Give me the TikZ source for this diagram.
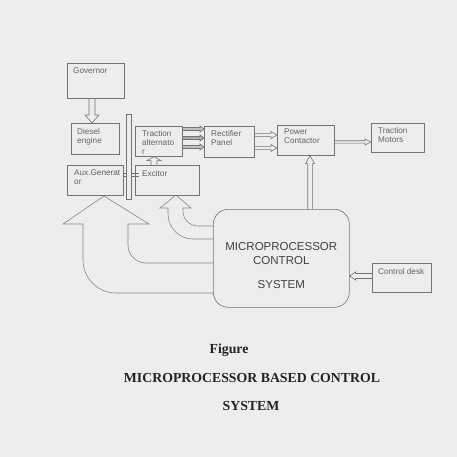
\documentclass[tikz,border=0pt]{standalone}
\usepackage{fontspec}
\setmainfont{Liberation Sans}
\newfontfamily\capfont{Liberation Serif}
\usetikzlibrary{calc}
\definecolor{bgc}{RGB}{238,236,236}
\definecolor{lineg}{RGB}{115,115,115}
\definecolor{lightg}{RGB}{135,135,135}
\definecolor{txtg}{RGB}{100,100,100}
\definecolor{mcstxt}{RGB}{65,65,65}
\definecolor{captxt}{RGB}{35,35,35}
\pgfdeclarelayer{bglayer}
\pgfdeclarelayer{conn}
\pgfsetlayers{bglayer,conn,main}
\begin{document}
\begin{tikzpicture}[x=1pt,y=-1pt,
  blk/.style={draw=lineg, line width=0.6pt, rectangle, inner sep=0pt, anchor=north west},
  lbl/.style={anchor=north west, inner sep=0pt, align=left, font=\fontsize{8.2}{9}\selectfont, text=txtg},
  hollow/.style n args={3}{draw=lineg, line width=0.6pt, fill=bgc,
    to path={let \p1=(\tikztostart), \p2=(\tikztotarget),
      \n1={veclen(\x2-\x1,\y2-\y1)}, \n2={atan2(\y2-\y1,\x2-\x1)} in
      ($(\p1)+(\n2+90:#1)$) -- ($(\p1)+(\n2:{\n1-#3})+(\n2+90:#1)$)
      -- ($(\p1)+(\n2:{\n1-#3})+(\n2+90:#2)$) -- (\p2)
      -- ($(\p1)+(\n2:{\n1-#3})+(\n2-90:#2)$) -- ($(\p1)+(\n2:{\n1-#3})+(\n2-90:#1)$)
      -- ($(\p1)+(\n2-90:#1)$)}},
  dbl/.style={draw=lineg, line width=0.5pt, double=bgc, double distance=2.2pt},
  bigarrow/.style={draw=lightg, line width=0.6pt, fill=bgc},
]
\useasboundingbox (0,0) rectangle (457,457);
\begin{pgfonlayer}{bglayer}
  \fill[bgc] (0,0) rectangle (457,457);
\end{pgfonlayer}

% blocks
\node[blk, minimum width=57pt, minimum height=35pt] (gov) at (67,63) {};
\node[blk, minimum width=48pt, minimum height=31pt] (diesel) at (71,123) {};
\node[blk, minimum width=47pt, minimum height=30pt] (alt) at (135,126) {};
\node[blk, minimum width=50pt, minimum height=31pt] (rect) at (204,126) {};
\node[blk, minimum width=57pt, minimum height=30pt] (pc) at (277,125) {};
\node[blk, minimum width=53pt, minimum height=29pt] (tm) at (371,123) {};
\node[blk, minimum width=56pt, minimum height=30pt] (aux) at (67,165) {};
\node[blk, minimum width=64pt, minimum height=30pt] (exc) at (135,165) {};
\node[blk, minimum width=59pt, minimum height=29pt] (cd) at (372,263) {};
\node[blk, rounded corners=15pt, minimum width=136pt, minimum height=98pt] (mcs) at (213,209) {};
\node[draw=lineg, line width=0.6pt, fill=bgc, inner sep=0pt, minimum width=5pt, minimum height=85pt] (shaft) at (128.5,156.5) {};

% labels
\node[lbl] (tgov) at ($(gov.north west)+(6,5)$) {Governor};
\node[lbl] (tdiesel) at ($(diesel.north west)+(6,5)$) {Diesel\\engine};
\node[lbl] (talt) at ($(alt.north west)+(7,4)$) {Traction\\alternato\\r};
\node[lbl] (trect) at ($(rect.north west)+(7,4)$) {Rectifier\\Panel};
\node[lbl] (tpc) at ($(pc.north west)+(7,4)$) {Power\\Contactor};
\node[lbl] (ttm) at ($(tm.north west)+(7,4)$) {Traction\\Motors};
\node[lbl] (taux) at ($(aux.north west)+(7,5)$) {Aux.Generat\\or};
\node[lbl] (texc) at ($(exc.north west)+(7,5)$) {Excitor};
\node[lbl] (tcd) at ($(cd.north west)+(6,5)$) {Control desk};
\node[anchor=north, inner sep=0pt, align=center, text=mcstxt,
      font=\fontsize{11.5}{14}\selectfont] (tmcs) at ($(mcs.north)+(0,33)$)
      {MICROPROCESSOR\\CONTROL\\[10pt]SYSTEM};

% caption
\node[anchor=base, inner sep=0pt, text=captxt, font=\capfont\bfseries\fontsize{13.8}{16}\selectfont] (cap1) at (229,353.5) {Figure};
\node[anchor=base, inner sep=0pt, text=captxt, font=\capfont\bfseries\fontsize{13.8}{16}\selectfont] (cap2) at (252,382.5) {MICROPROCESSOR BASED CONTROL};
\node[anchor=base, inner sep=0pt, text=captxt, font=\capfont\bfseries\fontsize{13.8}{16}\selectfont] (cap3) at (251,410.5) {SYSTEM};

\begin{pgfonlayer}{conn}
  % shaft couplings
  \draw[dbl] ($(diesel.north east)+(0,14.5)$) -- ($(alt.north west)+(0,11.5)$);
  \draw[dbl] ($(aux.north east)+(0,10)$) -- ($(exc.north west)+(4,10)$);
  % straight hollow arrows
  \draw[hollow={3pt}{7pt}{8pt}] ($(gov.south west)+(25,0)$) to ($(diesel.north west)+(21,0)$);
  \draw[hollow={3pt}{7pt}{4pt}] ($(exc.north west)+(19,0)$) to ($(alt.south west)+(19,0)$);
  \draw[hollow={1.5pt}{3pt}{4pt}, fill=lineg!45] ($(alt.north east)+(0,3)$) to ($(rect.north west)+(0,3)$);
  \draw[hollow={1.5pt}{3pt}{4pt}, fill=lineg!60] ($(alt.north east)+(0,12)$) to ($(rect.north west)+(0,12)$);
  \draw[hollow={1.5pt}{3pt}{4pt}, fill=lineg!45] ($(alt.north east)+(0,21)$) to ($(rect.north west)+(0,21)$);
  \draw[hollow={1.6pt}{3.5pt}{6pt}] ($(rect.north east)+(0,9)$) to ($(pc.north west)+(0,10)$);
  \draw[hollow={1.6pt}{3.5pt}{6pt}] ($(rect.north east)+(0,22)$) to ($(pc.north west)+(0,23)$);
  \draw[hollow={1.2pt}{3pt}{6pt}] ($(pc.north east)+(0,17)$) to ($(tm.north west)+(0,19)$);
  \draw[hollow={2.3pt}{4.5pt}{8pt}] ($(mcs.north west)+(97,0)$) to ($(pc.south west)+(33,0)$);
  \draw[hollow={2.5pt}{4pt}{6pt}] ($(cd.north west)+(0,13)$) to ($(mcs.north east)+(0,67)$);
  % large curved arrows from the microprocessor
  \draw[bigarrow] (213,263) -- (146,263) .. controls (136.1,263) and (128,254.9) .. (128,245)
    -- (128,224) -- (149,224) -- (104,196) -- (63,224) -- (83,224) -- (83,260)
    .. controls (83,278.2) and (97.8,293) .. (116,293) -- (213,293);
  \draw[bigarrow] (213,226) -- (198,226) .. controls (189.7,226) and (183,219.3) .. (183,211)
    -- (183,208) -- (191,208) -- (176,195) -- (160,208) -- (168,208) -- (168,214)
    .. controls (168,227.8) and (179.2,239) .. (193,239) -- (213,239);
\end{pgfonlayer}
\end{tikzpicture}
\end{document}
